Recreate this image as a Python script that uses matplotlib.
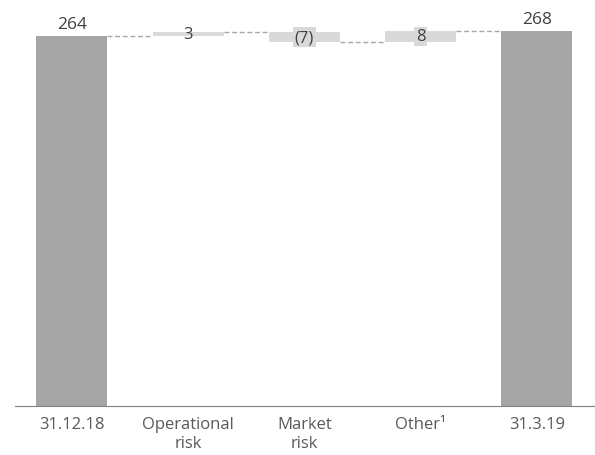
import numpy as np
import matplotlib.pyplot as plt

categories = ["31.12.18", "Operational\nrisk", "Market\nrisk", "Other\u00b9", "31.3.19"]
start_value = 264
changes = [3, -7, 8]
end_value = 268
labels = ["264", "3", "(7)", "8", "268"]

dark = "#a6a6a6"
light = "#d9d9d9"
text_col = "#404040"

plt.rcParams["font.family"] = ["Open Sans", "DejaVu Sans"]

fig = plt.figure(figsize=(5.95, 4.56), dpi=100)
ax = fig.add_axes([0.025, 0.1075, 0.975, 0.8925])

x = np.arange(len(categories))
w = 0.61

# running levels
levels = [start_value]
for c in changes:
    levels.append(levels[-1] + c)

ax.bar(x[0], start_value, w, color=dark)
ax.bar(x[-1], end_value, w, color=dark)
for i, c in enumerate(changes):
    lo = min(levels[i], levels[i + 1])
    ax.bar(x[i + 1], abs(c), w, bottom=lo, color=light)
    box = None
    if abs(c) > 5:
        box = dict(boxstyle="square,pad=0.1", fc=light, ec="none")
    ax.text(x[i + 1], lo + abs(c) / 2, labels[i + 1], ha="center", va="center",
            fontsize=12, color=text_col, bbox=box)

# connectors
for i, lv in enumerate(levels):
    ax.plot([x[i] + w / 2, x[i + 1] - w / 2], [lv, lv], ls=(0, (3.5, 2)),
            color=dark, lw=1)

ax.text(x[0], start_value + 3, labels[0], ha="center", va="bottom", fontsize=12.5, color=text_col)
ax.text(x[-1], end_value + 3, labels[-1], ha="center", va="bottom", fontsize=12.5, color=text_col)

ax.set_xlim(-0.49, 4.5)
ax.set_ylim(0, 290.7)
ax.set_xticks(x)
ax.set_xticklabels(categories, fontsize=12, color="#595959", linespacing=1.3)
ax.tick_params(axis="x", length=0, pad=7)
ax.set_yticks([])
for s in ["top", "right", "left"]:
    ax.spines[s].set_visible(False)
ax.spines["bottom"].set_color("#808080")
ax.spines["bottom"].set_linewidth(0.8)

fig.savefig("out.png", dpi=100)
